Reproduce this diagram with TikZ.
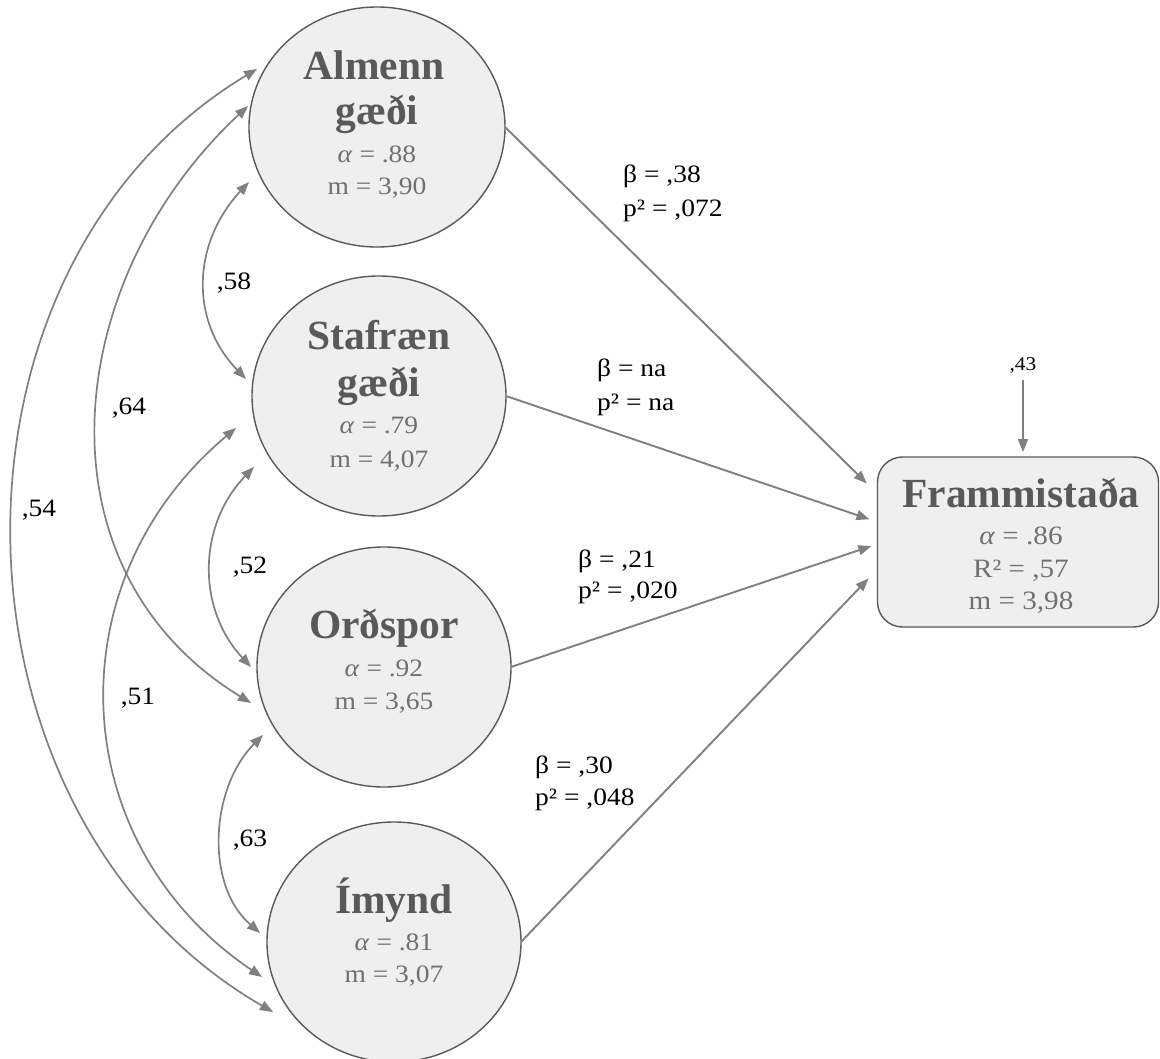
\documentclass[tikz,border=0pt]{standalone}
\usepackage{fontspec}
\setmainfont{Liberation Serif}
\newfontfamily\subfont{Liberation Serif}[FakeStretch=1.1]
\usetikzlibrary{arrows.meta,calc,shapes.geometric}
\definecolor{nodefill}{HTML}{EFEFEF}
\definecolor{nodeline}{HTML}{595959}
\definecolor{titlecol}{HTML}{595959}
\definecolor{subcol}{HTML}{707070}
\definecolor{arrowcol}{HTML}{808080}
\begin{document}
\begin{tikzpicture}[x=1pt,y=-1pt,
  latent/.style={ellipse, draw=nodeline, fill=nodefill, line width=1.4pt, minimum height=240pt, minimum width=#1, inner sep=0pt, outer sep=0pt},
  obs/.style={rectangle, rounded corners=25pt, draw=nodeline, fill=nodefill, line width=1.4pt, minimum width=281pt, minimum height=170pt, inner sep=0pt, outer sep=0pt},
  titletxt/.style={font=\fontsize{41.5}{41.5}\selectfont\bfseries, text=titlecol, anchor=base, inner sep=0pt},
  subtxt/.style={font=\subfont\fontsize{25}{25}\selectfont, text=subcol, anchor=base, inner sep=0pt},
  boxsub/.style={font=\subfont\fontsize{26.5}{26.5}\selectfont, text=subcol, anchor=base, inner sep=0pt},
  plabel/.style={font=\subfont\fontsize{25}{25}\selectfont, text=black, anchor=base west, inner sep=0pt},
  clabel/.style={font=\subfont\fontsize{25}{25}\selectfont, text=black, inner sep=0pt},
  regpath/.style={draw=arrowcol, line width=1.9pt, -{Triangle[length=13pt,width=10pt]}},
  corr/.style={draw=arrowcol, line width=1.7pt, {Triangle[length=13pt,width=10pt]}-{Triangle[length=13pt,width=10pt]}}
]
\path[use as bounding box, fill=white] (0,0) rectangle (1160,1059);

% latent variables
\node[latent=256pt] (A) at (377,127) {};
\node[latent=254pt] (S) at (379,396) {};
\node[latent=254pt] (O) at (384,667) {};
\node[latent=254pt] (I) at (394,942) {};
\node[obs] (F) at (1018,542) {};

% texts in nodes
\node[titletxt] (A1) at ($(A)+(-3,-47)$) {Almenn};
\node[titletxt] (A2) at ($(A)+(0,-2)$) {gæði};
\node[subtxt] (A3) at ($(A)+(0,36)$) {\textit{α} = .88};
\node[subtxt] (A4) at ($(A)+(0,68)$) {m = 3,90};

\node[titletxt] (S1) at ($(S)+(0,-46)$) {Stafræn};
\node[titletxt] (S2) at ($(S)+(0,1)$) {gæði};
\node[subtxt] (S3) at ($(S)+(0,37)$) {\textit{α} = .79};
\node[subtxt] (S4) at ($(S)+(0,71)$) {m = 4,07};

\node[titletxt] (O1) at ($(O)+(0,-29)$) {Orðspor};
\node[subtxt] (O3) at ($(O)+(0,9)$) {\textit{α} = .92};
\node[subtxt] (O4) at ($(O)+(0,42)$) {m = 3,65};

\node[titletxt] (I1) at ($(I)+(0,-29)$) {Ímynd};
\node[subtxt] (I3) at ($(I)+(0,8)$) {\textit{α} = .81};
\node[subtxt] (I4) at ($(I)+(0,40)$) {m = 3,07};

\node[titletxt] (F1) at ($(F)+(3,-35)$) {Frammistaða};
\node[boxsub] (F2) at ($(F)+(3,2)$) {\textit{α} = .86};
\node[boxsub] (F3) at ($(F)+(3,35)$) {R² = ,57};
\node[boxsub] (F4) at ($(F)+(3,67)$) {m = 3,98};

% residual
\node[font=\subfont\fontsize{19.5}{19.5}\selectfont, inner sep=0pt] (r43) at (1023,366) {,43};
\coordinate (e43) at (1023,380);
\draw[regpath, shorten >=5pt] (e43) -- ([xshift=5pt]F.north);

% structural paths
\draw[regpath, shorten >=15pt] (A.east) -- ([yshift=48pt]F.west);
\draw[regpath, shorten >=8.5pt] (S.east) -- ([yshift=20pt]F.west);
\draw[regpath, shorten >=6.5pt] (O.east) -- ([yshift=-2pt]F.west);
\draw[regpath, shorten >=13pt] (I.east) -- ([yshift=-27pt]F.west);

\node[plabel] (b1a) at (623,183) {β = ,38};
\node[plabel] (b1b) at (623,217) {p² = ,072};
\node[plabel] (b2a) at (597,377) {β = na};
\node[plabel] (b2b) at (597,410) {p² = na};
\node[plabel] (b3a) at (578,567) {β = ,21};
\node[plabel] (b3b) at (578,598) {p² = ,020};
\node[plabel] (b4a) at (535,773) {β = ,30};
\node[plabel] (b4b) at (535,805) {p² = ,048};

% correlations
\draw[corr] ($(A)+(-128,55)$) .. controls (192.9,242.2) and (188.8,319.8) .. ($(S)+(-133,-17)$);
\draw[corr] ($(S)+(-125,71)$) .. controls (198.1,524.8) and (196.2,608.2) .. ($(O)+(-133,0)$);
\draw[corr] ($(O)+(-121,68)$) .. controls (210.8,787.2) and (204.2,884.5) .. ($(I)+(-134,-9)$);
\draw[corr] ($(A)+(-129,-21)$) .. controls (60.4,281.1) and (32,569) .. ($(O)+(-133,36)$);
\draw[corr] ($(A)+(-120,-58)$) .. controls (-77.2,269.9) and (-64.7,817) .. ($(I)+(-121,70)$);
\draw[corr] ($(S)+(-143,32)$) .. controls (52.9,581.7) and (63.9,843.4) .. ($(I)+(-132,35)$);

\node[clabel] (l58) at (234,283) {,58};
\node[clabel] (l52) at (250,567) {,52};
\node[clabel] (l63) at (250,840) {,63};
\node[clabel] (l64) at (129,408) {,64};
\node[clabel] (l54) at (39,510) {,54};
\node[clabel] (l51) at (138,698) {,51};
\end{tikzpicture}
\end{document}
